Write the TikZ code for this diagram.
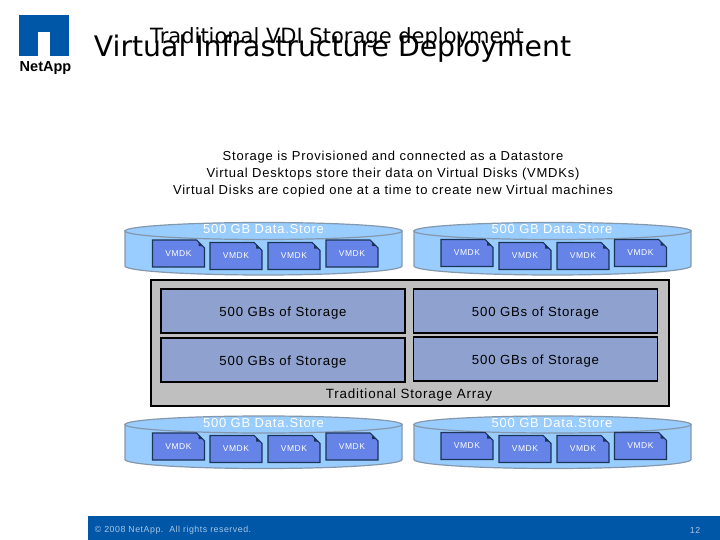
\documentclass[tikz,border=0pt]{standalone}
\usepackage{fontspec}
\setmainfont[LetterSpace=6]{Liberation Sans}
\newfontfamily\titlefont{DejaVu Sans}
\newfontfamily\brandfont{Liberation Sans}
\usetikzlibrary{shapes.misc}
\definecolor{netblue}{HTML}{0057A8}
\definecolor{diskblue}{HTML}{99CCFF}
\definecolor{diskedge}{HTML}{8497AB}
\definecolor{vmdkblue}{HTML}{6683E8}
\definecolor{vmdkedge}{HTML}{1C3557}
\definecolor{storeblue}{HTML}{8FA1CF}
\definecolor{footertext}{HTML}{A9C6E6}
\tikzstyle{disk} = [draw=diskedge, line width=1.2pt, fill=diskblue]
\tikzstyle{disklabel} = [text=white, font=\fontsize{13}{15}\selectfont, inner sep=0pt]
\tikzstyle{vmdk} = [chamfered rectangle, chamfered rectangle corners=north east, chamfered rectangle xsep=5pt,
                    chamfered rectangle ysep=5pt, minimum width=52pt, minimum height=27pt, inner sep=0pt,
                    draw=vmdkedge, line width=1.1pt, fill=vmdkblue, text=white, font=\fontsize{8.5}{10}\selectfont,
                    path picture={\fill[vmdkedge] ([xshift=-6pt]path picture bounding box.north east)
                        -- ([xshift=-6pt,yshift=-6pt]path picture bounding box.north east)
                        -- ([yshift=-6pt]path picture bounding box.north east) -- cycle;}]
\tikzstyle{store} = [rectangle, minimum width=244pt, minimum height=44pt, inner sep=0pt, draw=black,
                     line width=1.1pt, fill=storeblue, text height=10.6pt, text depth=0pt,
                     font=\fontsize{13.2}{15}\selectfont]
\newcommand{\datadisk}[2]{
    \draw[disk] ({#1-138.5},#2) -- ++(0,35) arc[start angle=180, end angle=0, x radius=138.5, y radius=9] -- ++(0,-35) -- cycle;
    \draw[disk] (#1,#2) ellipse[x radius=138.5, y radius=8.5];
}
\begin{document}
\begin{tikzpicture}[x=1pt, y=-1pt]
    \useasboundingbox (0,0) rectangle (720,540);

    % logo
    \node (logo) [rectangle, minimum width=50pt, minimum height=41pt, inner sep=0pt, fill=netblue] at (44,35.5) {};
    \node (notch) [rectangle, minimum width=12pt, minimum height=24pt, inner sep=0pt, fill=white] at (44,44) {};
    \node (brand) [inner sep=0pt, font=\brandfont\fontsize{14.5}{16}\bfseries\selectfont] at (45.5,68) {NetApp};

    % titles
    \node (title) [inner sep=0pt, font=\titlefont\fontsize{28.3}{31}\selectfont] at (332.5,49) {Virtual Infrastructure Deployment};
    \node (subtitle) [inner sep=0pt, font=\titlefont\fontsize{21}{24}\selectfont] at (337,38) {Traditional VDI Storage deployment};

    % intro text
    \node (intro) [inner sep=0pt, align=center, font=\fontsize{13}{17}\selectfont] at (393,174)
        {Storage is Provisioned and connected as a Datastore\\
         Virtual Desktops store their data on Virtual Disks (VMDKs)\\
         Virtual Disks are copied one at a time to create new Virtual machines};

    % upper data stores
    \datadisk{263.5}{231}
    \node (labelA) [disklabel] at (263.5,229) {500 GB Data.Store};
    \node (vmdkAa) [vmdk] at (178.5,253.5) {VMDK};
    \node (vmdkAb) [vmdk] at (236,256) {VMDK};
    \node (vmdkAc) [vmdk] at (294,256) {VMDK};
    \node (vmdkAd) [vmdk] at (352,253.5) {VMDK};

    \datadisk{552.5}{231}
    \node (labelB) [disklabel] at (552,229) {500 GB Data.Store};
    \node (vmdkBa) [vmdk] at (467,253) {VMDK};
    \node (vmdkBb) [vmdk] at (525,256) {VMDK};
    \node (vmdkBc) [vmdk] at (583,256) {VMDK};
    \node (vmdkBd) [vmdk] at (640.5,253) {VMDK};

    % storage array
    \node (array) [rectangle, minimum width=518pt, minimum height=126pt, inner sep=0pt, draw=black,
                   line width=1.4pt, fill=black!25] at (410,343) {};
    \node (storeA) [store] at (283,311) {500 GBs of Storage};
    \node (storeB) [store] at (535.5,311) {500 GBs of Storage};
    \node (storeC) [store] at (283,360) {500 GBs of Storage};
    \node (storeD) [store] at (535.5,359) {500 GBs of Storage};
    \node (arraylabel) [inner sep=0pt, font=\fontsize{13.4}{15}\selectfont] at (409,395) {Traditional Storage Array};

    % lower data stores
    \datadisk{263.5}{424.5}
    \node (labelC) [disklabel] at (263.5,423) {500 GB Data.Store};
    \node (vmdkCa) [vmdk] at (178.5,446.5) {VMDK};
    \node (vmdkCb) [vmdk] at (236,449) {VMDK};
    \node (vmdkCc) [vmdk] at (294,449) {VMDK};
    \node (vmdkCd) [vmdk] at (352,446.5) {VMDK};

    \datadisk{552.5}{424.5}
    \node (labelD) [disklabel] at (552,423) {500 GB Data.Store};
    \node (vmdkDa) [vmdk] at (467,446) {VMDK};
    \node (vmdkDb) [vmdk] at (525,449) {VMDK};
    \node (vmdkDc) [vmdk] at (583,449) {VMDK};
    \node (vmdkDd) [vmdk] at (640.5,446) {VMDK};

    % footer
    \node (footer) [rectangle, minimum width=632pt, minimum height=24pt, inner sep=0pt, fill=netblue] at (404,528) {};
    \node (copyright) [inner sep=0pt, text=footertext, font=\fontsize{8.8}{10}\selectfont] at (173,530.5) {© 2008 NetApp.\ \ All rights reserved.};
    \node (pagenum) [inner sep=0pt, text=footertext, font=\fontsize{8.8}{10}\selectfont] at (695,530) {12};
\end{tikzpicture}
\end{document}
